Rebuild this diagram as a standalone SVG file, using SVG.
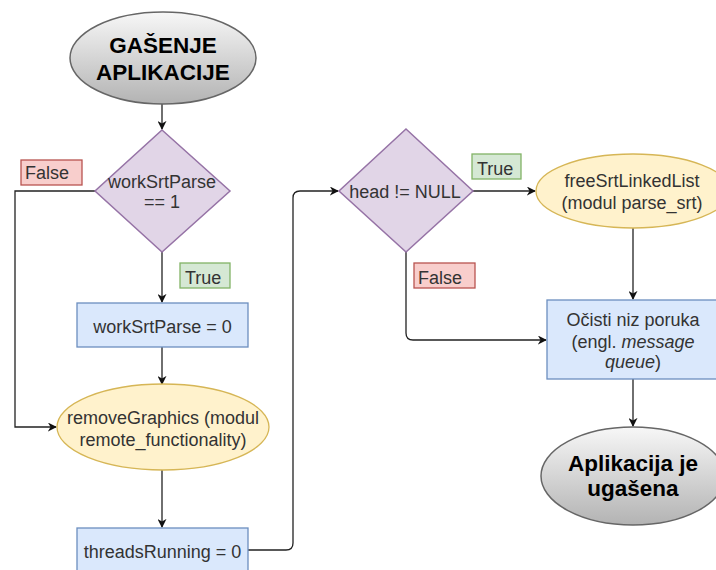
<svg xmlns="http://www.w3.org/2000/svg" width="716" height="570" viewBox="0 0 716 570">
<defs>
<linearGradient id="gray" x1="0" y1="0" x2="0" y2="1">
<stop offset="0" stop-color="#f7f7f7"/>
<stop offset="1" stop-color="#b3b3b3"/>
</linearGradient>
<marker id="arr" viewBox="0 0 10 10" refX="9" refY="5" markerWidth="9" markerHeight="9" markerUnits="userSpaceOnUse" orient="auto">
<path d="M0,0 L10,5 L0,10 L3,5 z" fill="#111"/>
</marker>
</defs>
<style>
.t{font-family:"Liberation Sans",Arial,sans-serif;font-size:18px;fill:#333333;}
.c{text-anchor:middle;}
.b{font-family:"Liberation Sans",Arial,sans-serif;font-weight:bold;font-size:22.5px;fill:#000;text-anchor:middle;}
.term{fill:url(#gray);stroke:#666666;stroke-width:1.5;}
.dec{fill:#e1d5e7;stroke:#9673a6;stroke-width:1.5;}
.proc{fill:#dae8fc;stroke:#6c8ebf;stroke-width:1.3;}
.sub{fill:#fff2cc;stroke:#d6b656;stroke-width:1.3;}
.tr{fill:#d5e8d4;stroke:#82b366;stroke-width:1.3;}
.fa{fill:#f8cecc;stroke:#b85450;stroke-width:1.3;}
.ln{fill:none;stroke:#222;stroke-width:1.3;}
</style>
<rect width="716" height="570" fill="#ffffff"/>
<g id="connectors">
<path class="ln" d="M162,104 L162,129" marker-end="url(#arr)"/>
<path class="ln" d="M95,191 L15,191 L15,427 L56,427" marker-end="url(#arr)"/>
<path class="ln" d="M162,252 L162,302" marker-end="url(#arr)"/>
<path class="ln" d="M162,347 L162,384" marker-end="url(#arr)"/>
<path class="ln" d="M162,470 L162,527" marker-end="url(#arr)"/>
<path class="ln" d="M248,550 L286,550 Q293,550 293,543 L293,198 Q293,191 300,191 L338,191" marker-end="url(#arr)"/>
<path class="ln" d="M473,191 L535,191" marker-end="url(#arr)"/>
<path class="ln" d="M406,252 L406,333 Q406,340 413,340 L546,340" marker-end="url(#arr)"/>
<path class="ln" d="M633,228 L633,299" marker-end="url(#arr)"/>
<path class="ln" d="M633,379 L633,426" marker-end="url(#arr)"/>
</g>
<g id="start">
<ellipse class="term" cx="163" cy="58" rx="93" ry="46"/>
<text class="b" x="163" y="53">GAŠENJE</text>
<text class="b" x="163" y="80">APLIKACIJE</text>
</g>
<g id="dec1">
<polygon class="dec" points="162,130 230,191 162,252 95,191"/>
<text class="t c" x="162" y="188">workSrtParse</text>
<text class="t c" x="162" y="208">== 1</text>
</g>
<g id="false1">
<rect class="fa" x="21" y="160" width="61" height="25"/>
<text class="t" x="25" y="179">False</text>
</g>
<g id="true1">
<rect class="tr" x="180" y="263" width="50" height="25"/>
<text class="t" x="185" y="284">True</text>
</g>
<g id="set0">
<rect class="proc" x="77" y="303" width="171" height="44"/>
<text class="t c" x="162.5" y="333">workSrtParse = 0</text>
</g>
<g id="removeGraphics">
<ellipse class="sub" cx="163" cy="427" rx="106" ry="43"/>
<text class="t c" x="163" y="424">removeGraphics (modul</text>
<text class="t c" x="163" y="446">remote_functionality)</text>
</g>
<g id="threads">
<rect class="proc" x="77" y="528" width="171" height="44"/>
<text class="t c" x="162.5" y="558">threadsRunning = 0</text>
</g>
<g id="dec2">
<polygon class="dec" points="406,129 473,191 406,252 339,191"/>
<text class="t c" x="405" y="198">head != NULL</text>
</g>
<g id="true2">
<rect class="tr" x="472" y="154" width="49" height="25"/>
<text class="t" x="477" y="175">True</text>
</g>
<g id="false2">
<rect class="fa" x="414" y="263" width="61" height="25"/>
<text class="t" x="418" y="284">False</text>
</g>
<g id="freeSrt">
<ellipse class="sub" cx="633" cy="191" rx="97" ry="37"/>
<text class="t c" x="632" y="187">freeSrtLinkedList</text>
<text class="t c" x="632" y="209">(modul parse_srt)</text>
</g>
<g id="ocisti">
<rect class="proc" x="547" y="300" width="172" height="79"/>
<text class="t c" x="633" y="326">Očisti niz poruka</text>
<text class="t c" x="633" y="348">(engl. <tspan font-style="italic">message</tspan></text>
<text class="t c" x="633" y="368"><tspan font-style="italic">queue</tspan>)</text>
</g>
<g id="end">
<ellipse class="term" cx="633" cy="476" rx="92" ry="49"/>
<text class="b" x="633" y="471">Aplikacija je</text>
<text class="b" x="633" y="496">ugašena</text>
</g>
</svg>
